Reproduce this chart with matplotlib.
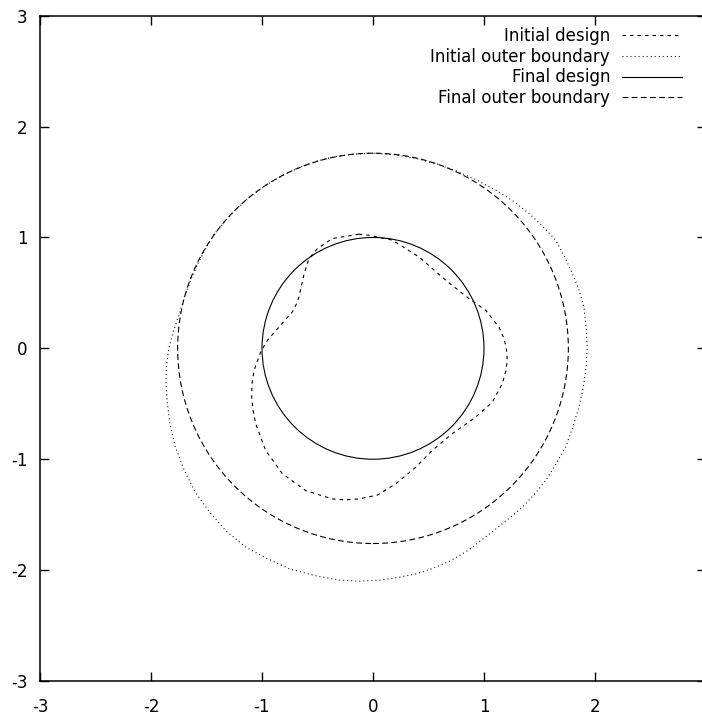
import matplotlib
matplotlib.use("Agg")
import matplotlib.pyplot as plt
from matplotlib.lines import Line2D
from matplotlib.patches import Circle

plt.rcParams['font.family'] = ['DejaVu Sans']
plt.rcParams['lines.scale_dashes'] = False
plt.rcParams['axes.unicode_minus'] = False

# initial design (counter-clockwise from the top)
init_x = [-0.126, -0.367, -0.50, -0.577, -0.62, -0.667, -0.69, -0.727, -0.847, -0.952,
          -1.012, -1.072, -1.09, -1.093, -1.08, -1.057, -0.967, -0.817, -0.606, -0.367,
          -0.25, -0.126, 0.04, 0.204, 0.385, 0.534, 0.714, 0.925, 1.075, 1.165,
          1.195, 1.21, 1.20, 1.175, 1.135, 1.015, 0.865, 0.655, 0.414, 0.174,
          -0.036, -0.126]
init_y = [1.03, 0.99, 0.90, 0.81, 0.675, 0.463, 0.40, 0.328, 0.192, 0.072,
          -0.033, -0.199, -0.32, -0.44, -0.56, -0.68, -0.92, -1.13, -1.283, -1.358,
          -1.366, -1.358, -1.323, -1.222, -1.072, -0.92, -0.77, -0.62, -0.485, -0.319,
          -0.21, -0.108, 0.012, 0.10, 0.192, 0.343, 0.449, 0.614, 0.825, 0.976,
          1.02, 1.03]

# initial outer boundary
outer_x = [0.0, -0.17, -0.336, -0.50, -0.667, -0.82, -0.967, -1.11, -1.237, -1.34,
           -1.43, -1.51, -1.58, -1.645, -1.70, -1.745, -1.80, -1.84, -1.862, -1.865,
           -1.855, -1.83, -1.78, -1.70, -1.60, -1.47, -1.327, -1.15, -0.967, -0.75,
           -0.52, -0.30, -0.126, 0.06, 0.23, 0.385, 0.55, 0.70, 0.86, 1.015,
           1.18, 1.345, 1.46, 1.556, 1.65, 1.736, 1.80, 1.856, 1.895, 1.92,
           1.93, 1.92, 1.90, 1.855, 1.796, 1.725, 1.646, 1.53, 1.405, 1.26,
           1.105, 0.93, 0.75, 0.57, 0.4, 0.2, 0.0]
outer_y = [1.76, 1.752, 1.73, 1.69, 1.63, 1.555, 1.47, 1.365, 1.25, 1.14,
           1.03, 0.90, 0.76, 0.61, 0.46, 0.31, 0.15, 0.0, -0.17, -0.32,
           -0.47, -0.68, -0.89, -1.10, -1.30, -1.48, -1.644, -1.79, -1.89, -1.99,
           -2.05, -2.09, -2.10, -2.09, -2.065, -2.035, -1.98, -1.915, -1.82, -1.70,
           -1.57, -1.434, -1.31, -1.192, -1.04, -0.89, -0.71, -0.53, -0.35, -0.17,
           0.012, 0.19, 0.373, 0.53, 0.675, 0.83, 0.976, 1.10, 1.217, 1.33,
           1.427, 1.52, 1.60, 1.665, 1.71, 1.745, 1.76]

# final shapes are circles about the origin
final_design_r = 1.0
final_outer_r = 1.76

labels = ['Initial design', 'Initial outer boundary', 'Final design', 'Final outer boundary']
ticks_x = [-3, -2, -1, 0, 1, 2]
ticks_y = [-3, -2, -1, 0, 1, 2, 3]

ls_init = (0, (2.5, 2.9))
ls_outer = (0, (0.7, 2.2))
ls_final_outer = (0, (4.2, 2.4))
lw = 0.8

fig = plt.figure(figsize=(7.02, 7.15), dpi=100)
ax = fig.add_axes([40 / 702, 34 / 715, 666 / 702, 665.3 / 715])

l1, = ax.plot(init_x, init_y, color='black', lw=lw, linestyle=ls_init)
l2, = ax.plot(outer_x, outer_y, color='black', lw=lw, linestyle=ls_outer)
ax.add_patch(Circle((0, 0), final_design_r, fill=False, edgecolor='black', lw=lw))
ax.add_patch(Circle((0, 0), final_outer_r, fill=False, edgecolor='black', lw=lw,
                    linestyle=ls_final_outer))
l3 = Line2D([], [], color='black', lw=lw)
l4 = Line2D([], [], color='black', lw=lw, linestyle=ls_final_outer)

ax.set_xlim(-3, 3)
ax.set_ylim(-3, 3)
ax.set_xticks(ticks_x)
ax.set_yticks(ticks_y)
ax.tick_params(direction='in', length=6.5, width=1.0, top=True, right=True,
               labelsize=12)
ax.tick_params(axis='x', pad=12)
ax.tick_params(axis='y', pad=9)
for s in ax.spines.values():
    s.set_linewidth(1.1)

ax.legend([l1, l2, l3, l4], labels, loc='upper right', frameon=False,
          markerfirst=False, fontsize=12, handlelength=3.6, handletextpad=0.72,
          labelspacing=0.16, borderpad=0, borderaxespad=0,
          bbox_to_anchor=(682 / 702, 688 / 715), bbox_transform=fig.transFigure)

fig.savefig('out.png', dpi=100)
